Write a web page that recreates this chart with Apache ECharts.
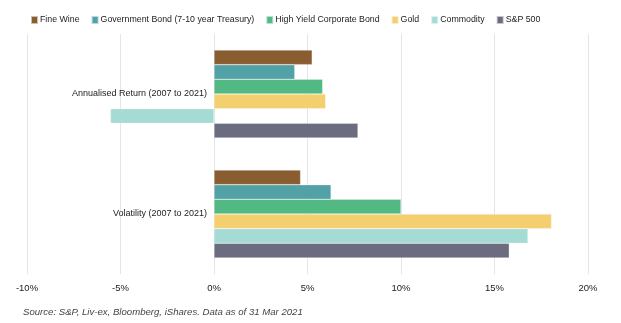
<!DOCTYPE html>
<html>
<head>
<meta charset="utf-8">
<script src="https://cdn.jsdelivr.net/npm/echarts@6/dist/echarts.min.js"></script>
<style>
  html, body { margin: 0; padding: 0; background: #fff; }
  #main { width: 621px; height: 323px; }
</style>
</head>
<body>
<div id="main"></div>
<script>
// categories on the y axis
const categories = ['Annualised Return (2007 to 2021)', 'Volatility (2007 to 2021)'];

// values in % : [annualised return, volatility]
const fineWine = [5.25, 4.63];
const govBond = [4.32, 6.26];
const highYield = [5.81, 10.0];
const gold = [5.97, 18.05];
const commodity = [-5.54, 16.79];
const sp500 = [7.7, 15.79];

const seriesNames = ['Fine Wine', 'Government Bond (7-10 year Treasury)', 'High Yield Corporate Bond', 'Gold', 'Commodity', 'S&P 500'];
const seriesValues = [fineWine, govBond, highYield, gold, commodity, sp500];
const colors = ['#8a5d30', '#52a1a6', '#52b884', '#f4cf6f', '#a5dbd5', '#6b6c7f'];

const font = '"Liberation Sans", Arial, sans-serif';

let option = {
  animation: false,
  color: colors,
  legend: {
    top: 10,
    left: 25,
    icon: 'rect',
    itemWidth: 7,
    itemHeight: 8,
    itemGap: 11,
    textStyle: {
      fontFamily: font,
      fontSize: 8.8,
      color: '#222',
      padding: [0, 0, 0, -3]
    }
  },
  grid: {
    left: 27,
    right: 33,
    top: 34,
    bottom: 49,
    containLabel: false,
    outerBoundsMode: 'none'
  },
  xAxis: {
    type: 'value',
    min: -10,
    max: 20,
    interval: 5,
    axisLine: { show: false },
    axisTick: { show: false },
    splitLine: {
      show: true,
      lineStyle: { color: '#e4e4ea', width: 1 }
    },
    axisLabel: {
      formatter: '{value}%',
      fontFamily: font,
      fontSize: 9.5,
      color: '#222',
      margin: 9
    }
  },
  yAxis: {
    type: 'category',
    data: categories,
    inverse: true,
    offset: -187, // put the labels next to the 0% line
    axisLine: { show: false },
    axisTick: { show: false },
    axisLabel: {
      fontFamily: font,
      fontSize: 9,
      color: '#222',
      margin: 7
    }
  },
  series: seriesNames.map((name, i) => ({
    name: name,
    type: 'bar',
    data: seriesValues[i],
    barGap: '0%',
    barCategoryGap: '26.7%',
    itemStyle: {
      color: colors[i],
      borderColor: 'rgba(255,255,255,0.6)',
      borderWidth: 0.5
    }
  })),
  graphic: [{
    type: 'text',
    left: 23,
    top: 307,
    style: {
      text: 'Source: S&P, Liv-ex, Bloomberg, iShares. Data as of 31 Mar 2021',
      font: 'italic 9.6px ' + font,
      fill: '#444'
    }
  }]
};

let myChart = echarts.init(document.getElementById('main'));
myChart.setOption(option);
</script>
</body>
</html>
